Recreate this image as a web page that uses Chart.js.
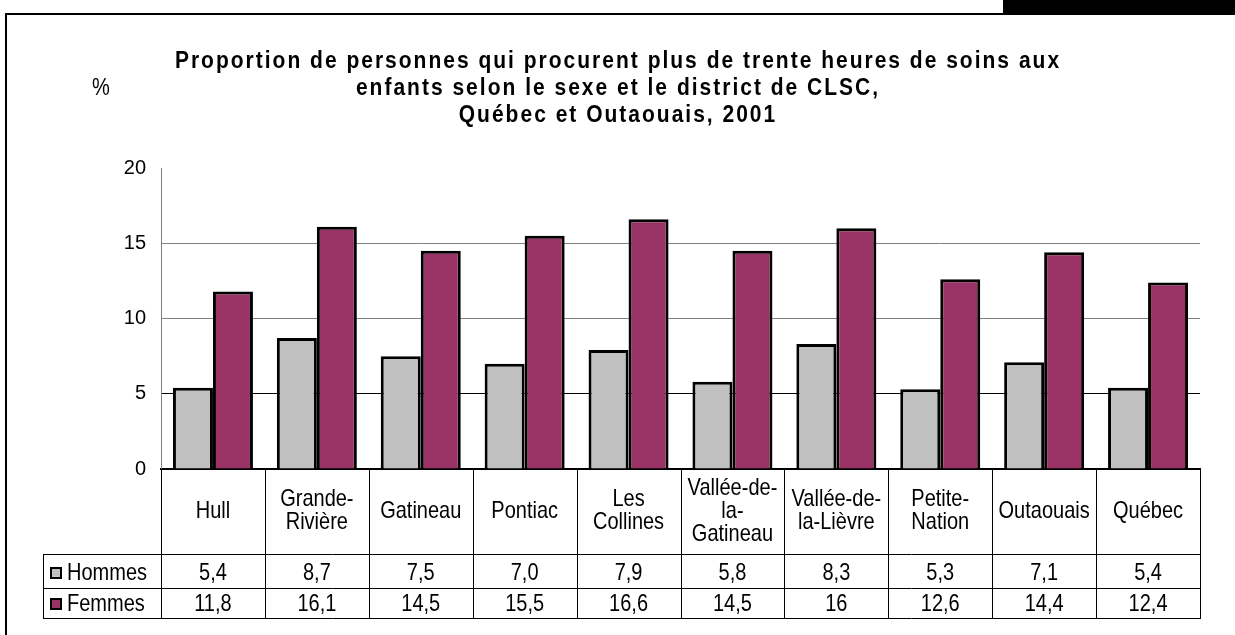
<!DOCTYPE html>
<html>
<head>
<meta charset="utf-8">
<script src="https://cdn.jsdelivr.net/npm/chart.js@4"></script>
<style>
  body { margin: 0; background: #fff; }
  #wrap { position: relative; width: 1235px; height: 635px; }
</style>
</head>
<body>
<div id="wrap"><canvas id="chart" width="1235" height="635"></canvas></div>
<script>
var districts = ['Hull', 'Grande-Rivière', 'Gatineau', 'Pontiac', 'Les Collines', 'Vallée-de-la-Gatineau', 'Vallée-de-la-Lièvre', 'Petite-Nation', 'Outaouais', 'Québec'];
var districtLines = [['Hull'], ['Grande-', 'Rivière'], ['Gatineau'], ['Pontiac'], ['Les', 'Collines'], ['Vallée-de-', 'la-', 'Gatineau'], ['Vallée-de-', 'la-Lièvre'], ['Petite-', 'Nation'], ['Outaouais'], ['Québec']];
var hommes = [5.4, 8.7, 7.5, 7.0, 7.9, 5.8, 8.3, 5.3, 7.1, 5.4];
var femmes = [11.8, 16.1, 14.5, 15.5, 16.6, 14.5, 16, 12.6, 14.4, 12.4];
var hommesLabels = ['5,4', '8,7', '7,5', '7,0', '7,9', '5,8', '8,3', '5,3', '7,1', '5,4'];
var femmesLabels = ['11,8', '16,1', '14,5', '15,5', '16,6', '14,5', '16', '12,6', '14,4', '12,4'];
var yTicks = [0, 5, 10, 15, 20];
var titleLines = ['Proportion de personnes qui procurent plus de trente heures de soins aux', 'enfants selon le sexe et le district de CLSC,', 'Québec et Outaouais, 2001'];

var GRAY = '#C0C0C0';
var PURPLE = '#993366';
var FONT = '"Liberation Sans", Arial, sans-serif';

// text in the original is a bit taller than wide
function stretchText(ctx, txt, x, y, font, align) {
    ctx.save();
    ctx.font = font;
    ctx.textAlign = align || 'center';
    ctx.textBaseline = 'middle';
    ctx.translate(x, y);
    ctx.scale(1, 1.18);
    ctx.fillText(txt, 0, 0);
    ctx.restore();
}

var decor = {
    id: 'decor',
    beforeDraw: function(chart) {
        var ctx = chart.ctx;
        ctx.save();
        ctx.fillStyle = '#fff';
        ctx.fillRect(0, 0, chart.width, chart.height);
        // frame
        ctx.fillStyle = '#000';
        ctx.fillRect(1003, 0, 232, 15);
        ctx.fillRect(5, 13, 998, 2);
        ctx.fillRect(5, 13, 2, 622);
        ctx.restore();
    },
    afterDraw: function(chart) {
        var ctx = chart.ctx;
        var area = chart.chartArea;
        var xs = chart.scales.x;
        var n = districts.length;
        var w = (area.right - area.left) / n;
        var top = area.bottom, r1 = 554, r2 = 588, r3 = 618, tLeft = 43;

        ctx.save();
        ctx.fillStyle = '#000';
        ctx.letterSpacing = '2px';
        titleLines.forEach(function(t, i) {
            stretchText(ctx, t, 618, 61 + i * 27, 'bold 21px ' + FONT);
        });
        ctx.letterSpacing = '0px';
        stretchText(ctx, '%', 101, 88, '20px ' + FONT);

        // table grid
        ctx.strokeStyle = '#000';
        ctx.lineWidth = 1;
        ctx.beginPath();
        for (var i = 0; i <= n; i++) {
            var x = Math.round(area.left + i * w) + 0.5;
            ctx.moveTo(x, top); ctx.lineTo(x, r3);
        }
        [r1, r2, r3].forEach(function(y) {
            ctx.moveTo(tLeft, y + 0.5); ctx.lineTo(Math.round(area.right) + 1, y + 0.5);
        });
        ctx.moveTo(tLeft + 0.5, r1); ctx.lineTo(tLeft + 0.5, r3);
        ctx.stroke();

        // category labels and values
        for (var j = 0; j < n; j++) {
            var cx = xs.getPixelForValue(j);
            var lines = districtLines[j];
            var y0 = 511 - (lines.length - 1) * 23 / 2;
            lines.forEach(function(l, k) {
                stretchText(ctx, l, cx, y0 + k * 23, '20px ' + FONT);
            });
            stretchText(ctx, hommesLabels[j], cx, 573, '20px ' + FONT);
            stretchText(ctx, femmesLabels[j], cx, 604, '20px ' + FONT);
        }

        // legend keys
        [[GRAY, 'Hommes', 573], [PURPLE, 'Femmes', 604]].forEach(function(s) {
            ctx.fillStyle = s[0];
            ctx.fillRect(51, s[2] - 5, 10, 10);
            ctx.strokeStyle = '#000';
            ctx.lineWidth = 2;
            ctx.strokeRect(51, s[2] - 5, 10, 10);
            ctx.fillStyle = '#000';
            stretchText(ctx, s[1], 67, s[2], '20px ' + FONT, 'left');
        });
        ctx.restore();
    }
};

var ctx = document.getElementById('chart').getContext('2d');
var chart = new Chart(ctx, {
    type: 'bar',
    data: {
        labels: districts,
        datasets: [
            {
                label: 'Hommes',
                data: hommes,
                backgroundColor: GRAY,
                borderColor: '#000',
                borderWidth: 3,
                borderSkipped: 'bottom',
            },
            {
                label: 'Femmes',
                data: femmes,
                backgroundColor: PURPLE,
                borderColor: '#000',
                borderWidth: 3,
                borderSkipped: 'bottom',
            },
        ]
    },
    options: {
        responsive: false,
        animation: false,
        devicePixelRatio: 1,
        categoryPercentage: 0.77,
        barPercentage: 1.0,
        layout: { padding: { top: 168, bottom: 166, left: 0, right: 35 } },
        plugins: {
            legend: { display: false },
            title: { display: false },
            tooltip: { enabled: false }
        },
        scales: {
            x: {
                ticks: { display: false },
                grid: { display: false },
                border: { display: true, color: '#000', width: 2 },
                afterFit: function(s) { s.height = 0; }
            },
            y: {
                min: 0,
                max: 20,
                afterBuildTicks: function(s) { s.ticks = yTicks.map(function(v) { return { value: v }; }); },
                ticks: { color: '#000', padding: 15, font: { family: FONT, size: 20 } },
                grid: {
                    drawTicks: false,
                    lineWidth: 1,
                    color: function(c) {
                        var v = c.tick && c.tick.value;
                        if (v === 0 || v === 20) return 'rgba(0,0,0,0)';
                        return v === 5 ? '#000' : '#808080';
                    }
                },
                border: { display: true, color: '#808080', width: 1 },
                afterFit: function(s) { s.width = 161; }
            }
        }
    },
    plugins: [decor]
});
</script>
</body>
</html>
